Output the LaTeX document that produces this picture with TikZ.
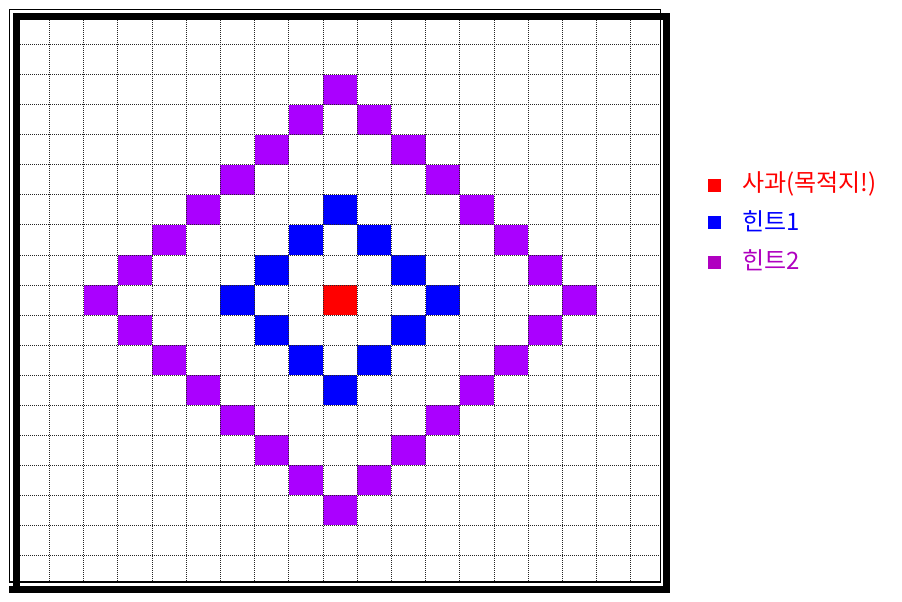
\documentclass[tikz,border=0pt]{standalone}
\usepackage{fontspec}
\newfontfamily\hangul{Noto Sans CJK KR}
\usepackage{xcolor}
\definecolor{appleRed}{RGB}{255,0,0}
\definecolor{hintBlue}{RGB}{0,0,255}
\definecolor{hintViolet}{RGB}{170,0,255}
\definecolor{keyViolet}{RGB}{176,0,192}
\tikzset{
  gridline/.style={line width=0.75pt,dash pattern=on 0.75pt off 0.75pt,black!85},
  keybox/.style={minimum size=9.75pt,inner sep=0pt,draw=none},
  keytext/.style={anchor=west,inner sep=0pt,font=\hangul\fontsize{18}{21}\selectfont}
}

\begin{document}
\begin{tikzpicture}[x=0.75pt,y=0.75pt,yscale=-1,xscale=1]
\useasboundingbox (0,0) rectangle (902,602);
\fill[white] (0,0) rectangle (902,602);

%Cells: hint 2 (distance 7), violet
\foreach \dx in {-7,...,7}{
  \pgfmathtruncatemacro{\dy}{7-abs(\dx)}
  \fill[hintViolet] ({323+(\dx)*34.2},{285+(\dy)*30}) rectangle ++(34.2,30);
  \fill[hintViolet] ({323+(\dx)*34.2},{285-(\dy)*30}) rectangle ++(34.2,30);
}
%Cells: hint 1 (distance 3), blue
\foreach \dx in {-3,...,3}{
  \pgfmathtruncatemacro{\dy}{3-abs(\dx)}
  \fill[hintBlue] ({323+(\dx)*34.2},{285+(\dy)*30}) rectangle ++(34.2,30);
  \fill[hintBlue] ({323+(\dx)*34.2},{285-(\dy)*30}) rectangle ++(34.2,30);
}
%Cell: apple, red
\fill[appleRed] (323,285) rectangle ++(34.2,30);

%Dotted grid
\foreach \k in {0,...,17}{
  \draw[gridline] ({49.4+\k*34.2},20) -- ({49.4+\k*34.2},582);
  \draw[gridline] (20,{45+\k*30}) -- (661,{45+\k*30});
}

%Frame: thin line and thick line
\draw[line width=1.1pt] (9.5,9.5) rectangle (660.5,582);
\draw[line width=5.25pt] (16.5,16.5) rectangle (666.5,589);
\draw[line width=5.25pt] (9,589) -- (16.5,589);

% Legend
\node[keybox,fill=appleRed] (keyApple) at (714,186) {};
\node[keytext,text=appleRed] (txtApple) at (742,184) {사과(목적지!)};
\node[keybox,fill=hintBlue] (keyHintA) at (714,222.5) {};
\node[keytext,text=hintBlue] (txtHintA) at (742,221) {힌트1};
\node[keybox,fill=keyViolet] (keyHintB) at (714,262.5) {};
\node[keytext,text=keyViolet] (txtHintB) at (742,260) {힌트2};

\end{tikzpicture}
\end{document}
